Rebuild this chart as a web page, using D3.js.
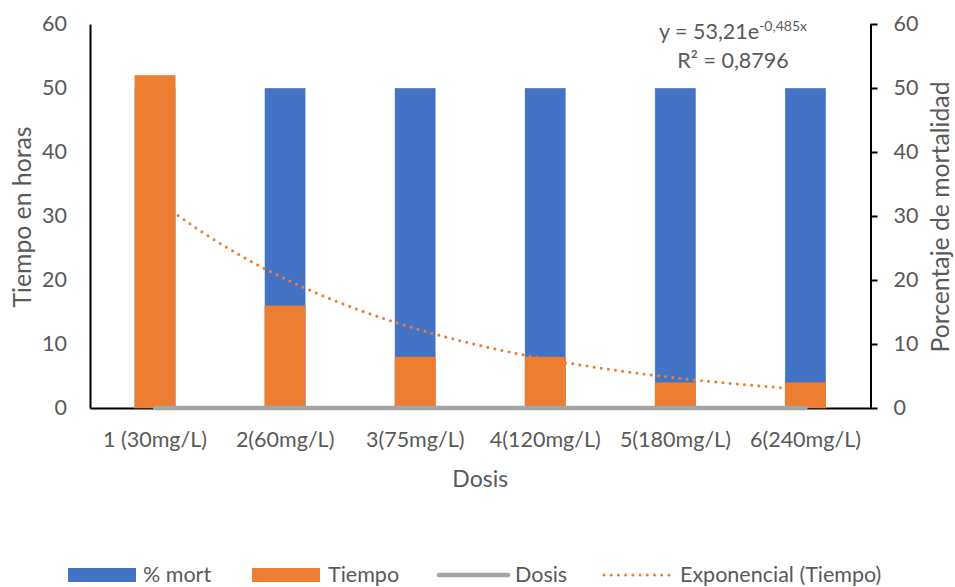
<!DOCTYPE html>
<html>
<head>
<meta charset="utf-8">
<script src="https://cdn.jsdelivr.net/npm/d3@7"></script>
<style>
  body { margin: 0; background: #fff; }
  text { font-family: Lato, "Open Sans", sans-serif; fill: #595959; }
</style>
</head>
<body>
<svg id="chart" width="955" height="587"></svg>
<script>
// Dose categories and the three series
const categories = ["1 (30mg/L)", "2(60mg/L)", "3(75mg/L)", "4(120mg/L)", "5(180mg/L)", "6(240mg/L)"];
const mortalidad = [50, 50, 50, 50, 50, 50];   // % mort (right axis)
const tiempo = [52, 16, 8, 8, 4, 4];           // Tiempo in hours (left axis)
const dosis = [0, 0, 0, 0, 0, 0];              // Dosis line
const yTicks = [0, 10, 20, 30, 40, 50, 60];
// Exponential trend fitted on Tiempo: y = a * e^(b x)
const trendA = 53.21;
const trendB = -0.485;
const trendLabel = ["y = 53,21e", "-0,485x", "R² = 0,8796"];

const C = { blue: "#4472C4", orange: "#ED7D31", gray: "#A5A5A5", text: "#595959" };
const M = { left: 90, right: 870.5, top: 24, bottom: 408 };
const FS = 21.5;       // tick, legend and label text
const FS_TITLE = 25;   // vertical axis titles

const svg = d3.select("#chart");

const x = d3.scaleBand().domain(categories).range([M.left, M.right]).padding(0);
const bw = x.bandwidth();
const barW = bw * 0.315;
const yL = d3.scaleLinear().domain([0, 60]).range([M.bottom, M.top]);
const yR = d3.scaleLinear().domain([0, 60]).range([M.bottom, M.top]);
// continuous position for trend (category index 1..6 at band centres)
const xNum = d3.scaleLinear().domain([0.5, categories.length + 0.5]).range([M.left, M.right]);

// Left axis
const gL = svg.append("g").attr("transform", `translate(${M.left},0)`)
  .call(d3.axisLeft(yL).tickValues(yTicks).tickSize(0).tickPadding(23).tickSizeOuter(0));
gL.select(".domain").attr("stroke", "#000").attr("stroke-width", 2);
gL.selectAll("text").attr("font-size", FS).attr("fill", C.text).style("font-family", "Lato");

// Right axis
const gR = svg.append("g").attr("transform", `translate(${M.right},0)`)
  .call(d3.axisRight(yR).tickValues(yTicks).tickSize(7).tickPadding(16).tickSizeOuter(0));
gR.select(".domain").attr("stroke", "#000").attr("stroke-width", 2);
gR.selectAll("line").attr("stroke", "#000").attr("stroke-width", 2);
gR.selectAll("text").attr("font-size", FS).attr("fill", C.text).style("font-family", "Lato");

// Bottom axis
const gB = svg.append("g").attr("transform", `translate(0,${M.bottom})`)
  .call(d3.axisBottom(x).tickSize(0).tickPadding(24).tickSizeOuter(0));
gB.select(".domain").attr("stroke", "#000").attr("stroke-width", 2);
gB.selectAll("text").attr("font-size", FS).attr("fill", C.text).style("font-family", "Lato");

// % mort bars
svg.append("g").selectAll("rect").data(mortalidad).join("rect")
  .attr("x", (d, i) => x(categories[i]) + (bw - barW) / 2)
  .attr("y", d => yR(d))
  .attr("width", barW)
  .attr("height", d => yR(0) - yR(d))
  .attr("fill", C.blue)
  .attr("stroke", "#fff").attr("stroke-opacity", 0.4).attr("stroke-width", 0.75);

// Tiempo bars
svg.append("g").selectAll("rect").data(tiempo).join("rect")
  .attr("x", (d, i) => x(categories[i]) + (bw - barW) / 2)
  .attr("y", d => yL(d))
  .attr("width", barW)
  .attr("height", d => yL(0) - yL(d))
  .attr("fill", C.orange);

// Dosis line
svg.append("path")
  .datum(dosis)
  .attr("fill", "none")
  .attr("stroke", C.gray)
  .attr("stroke-width", 4.5)
  .attr("stroke-linecap", "round")
  .attr("d", d3.line().x((d, i) => x(categories[i]) + bw / 2).y(d => yL(d)));

// Exponential trendline
const trendXs = d3.range(1, categories.length + 0.001, 0.05);
svg.append("path")
  .datum(trendXs)
  .attr("fill", "none")
  .attr("stroke", C.orange)
  .attr("stroke-width", 3)
  .attr("stroke-linecap", "round")
  .attr("stroke-dasharray", "0.01 7.2")
  .attr("d", d3.line().x(t => xNum(t)).y(t => yL(trendA * Math.exp(trendB * t))));

// Trend equation label
const eq = svg.append("text").attr("x", 733).attr("y", 39).attr("text-anchor", "middle").attr("font-size", FS);
eq.append("tspan").text(trendLabel[0]);
eq.append("tspan").attr("dy", -8).attr("font-size", 14).text(trendLabel[1]);
svg.append("text").attr("x", 733).attr("y", 68).attr("text-anchor", "middle").attr("font-size", FS).text(trendLabel[2]);

// Axis titles
svg.append("text").attr("transform", `translate(31,217) rotate(-90)`)
  .attr("text-anchor", "middle").attr("font-size", FS_TITLE)
  .attr("textLength", 181).attr("lengthAdjust", "spacingAndGlyphs").text("Tiempo en horas");
svg.append("text").attr("transform", `translate(949,217) rotate(-90)`)
  .attr("text-anchor", "middle").attr("font-size", FS_TITLE)
  .attr("textLength", 271).attr("lengthAdjust", "spacingAndGlyphs").text("Porcentaje de mortalidad");
svg.append("text").attr("x", (M.left + M.right) / 2).attr("y", 487)
  .attr("text-anchor", "middle").attr("font-size", 23).text("Dosis");

// Legend
const legendY = 575;
const leg = svg.append("g");
leg.append("rect").attr("x", 68).attr("y", legendY - 7).attr("width", 68).attr("height", 14).attr("fill", C.blue);
leg.append("text").attr("x", 143).attr("y", legendY + 7).attr("font-size", FS).text("% mort");
leg.append("rect").attr("x", 252).attr("y", legendY - 7).attr("width", 68).attr("height", 14).attr("fill", C.orange);
leg.append("text").attr("x", 328).attr("y", legendY + 7).attr("font-size", FS).text("Tiempo");
leg.append("line").attr("x1", 439).attr("x2", 508).attr("y1", legendY).attr("y2", legendY)
  .attr("stroke", C.gray).attr("stroke-width", 4.5).attr("stroke-linecap", "round");
leg.append("text").attr("x", 515).attr("y", legendY + 7).attr("font-size", FS).text("Dosis");
leg.append("line").attr("x1", 604).attr("x2", 674).attr("y1", legendY).attr("y2", legendY)
  .attr("stroke", C.orange).attr("stroke-width", 3).attr("stroke-linecap", "round").attr("stroke-dasharray", "0.01 7.2");
leg.append("text").attr("x", 680).attr("y", legendY + 7).attr("font-size", FS).text("Exponencial (Tiempo)");
</script>
</body>
</html>
